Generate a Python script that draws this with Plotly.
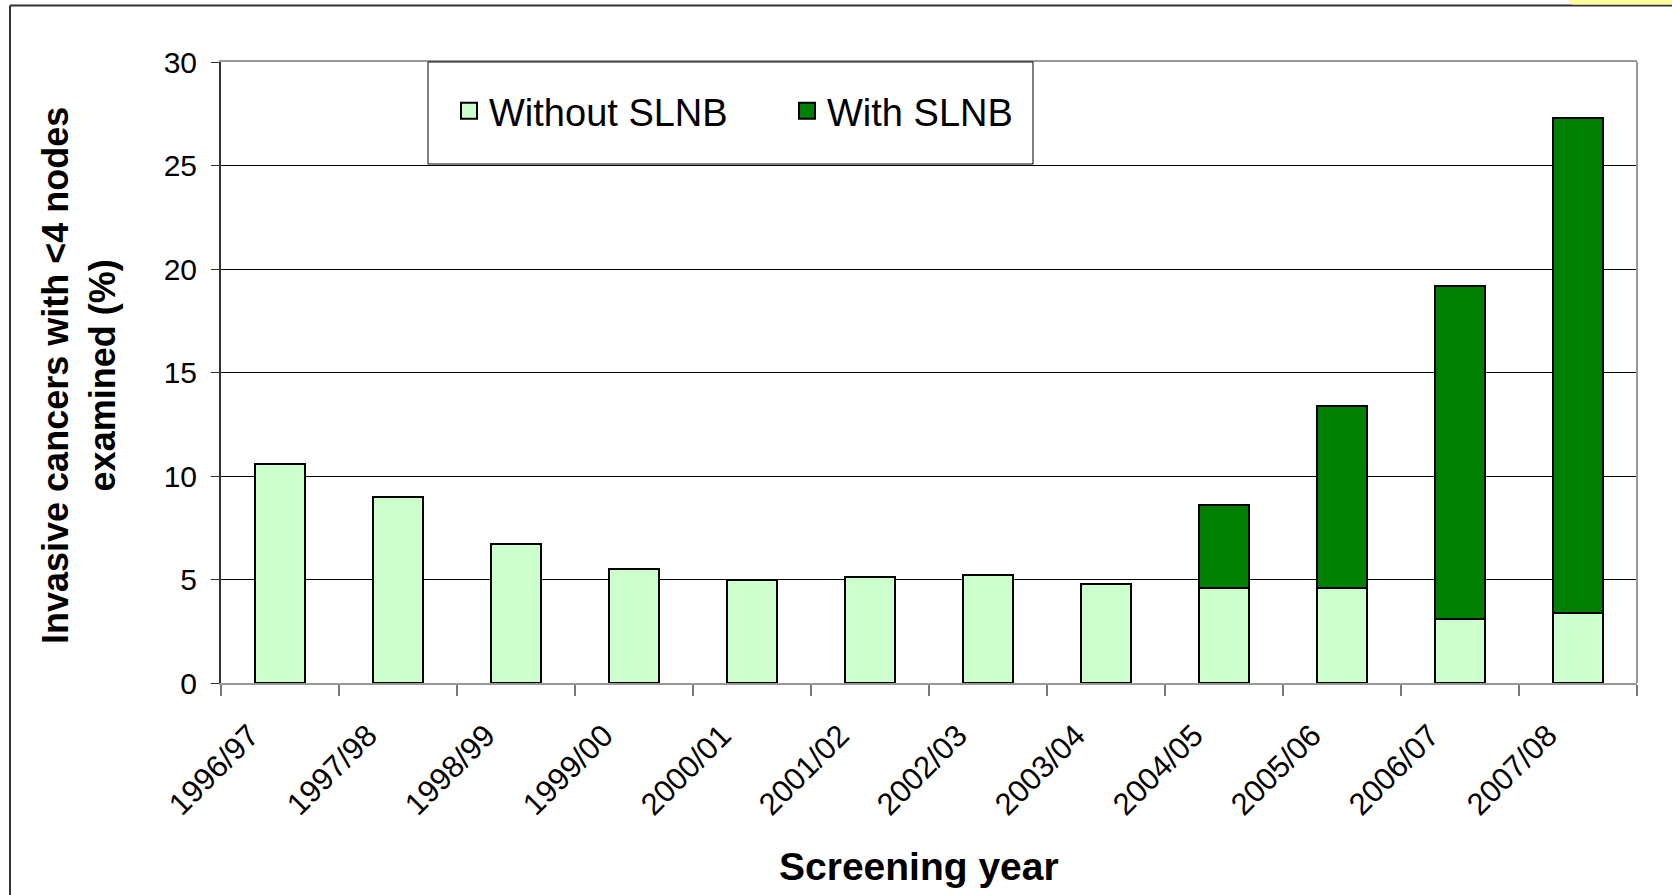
import plotly.graph_objects as go

years = ["1996/97", "1997/98", "1998/99", "1999/00", "2000/01", "2001/02",
         "2002/03", "2003/04", "2004/05", "2005/06", "2006/07", "2007/08"]
without_slnb = [10.6, 9.0, 6.7, 5.5, 5.0, 5.1, 5.2, 4.8, 4.6, 4.6, 3.1, 3.4]
with_slnb = [0, 0, 0, 0, 0, 0, 0, 0, 4.0, 8.8, 16.1, 23.9]
y_ticks = [0, 5, 10, 15, 20, 25, 30]

LIGHT = "#CCFFCC"
DARK = "#008000"

W, H = 1672, 895
L, R, T, B = 221, 35, 62, 212
PW, PH = W - L - R, H - T - B


def px(x):
    return (x - L) / PW


def py(y):
    return (H - B - y) / PH


FONT = "Liberation Sans, Arial, sans-serif"

fig = go.Figure()
fig.add_trace(go.Bar(
    x=years, y=without_slnb, name="Without SLNB", showlegend=False,
    marker=dict(color=LIGHT, line=dict(color="black", width=2)),
))
fig.add_trace(go.Bar(
    x=years, y=with_slnb, name="With SLNB", showlegend=False,
    marker=dict(color=DARK, line=dict(color="black", width=2)),
))
# legend entries (square keys)
for name, col in [("Without SLNB", LIGHT), ("With SLNB", DARK)]:
    fig.add_trace(go.Scatter(
        x=[None], y=[None], mode="markers", name=name,
        marker=dict(symbol="square", size=16, color=col,
                    line=dict(color="black", width=2)),
    ))

shapes = [
    # legend box
    dict(type="rect", xref="paper", yref="paper", x0=px(428), x1=px(1033),
         y0=py(164), y1=py(62), line=dict(color="black", width=1),
         fillcolor="white", layer="above"),
    # right frame line
    dict(type="line", xref="paper", yref="paper", x0=1, x1=1, y0=0, y1=1,
         line=dict(color="#999999", width=2)),
    # outer border (top, left)
    dict(type="line", xref="paper", yref="paper", x0=px(10), x1=px(W + 5),
         y0=py(5.5), y1=py(5.5), line=dict(color="#333333", width=2)),
    dict(type="line", xref="paper", yref="paper", x0=px(10), x1=px(10),
         y0=py(5.5), y1=py(H + 5), line=dict(color="#333333", width=2)),
    # yellow corner
    dict(type="path", xref="paper", yref="paper",
         path=f"M {px(1566)},{py(-2)} L {px(W + 5)},{py(-2)} L {px(W + 5)},{py(4.5)} L {px(1572)},{py(4.5)} Z",
         fillcolor="#FFFF99", line=dict(width=0)),
]

annotations = [
    dict(text="<b>Screening year</b>", xref="paper", yref="paper",
         x=px(919), y=py(866), xanchor="center", yanchor="middle",
         showarrow=False, font=dict(family=FONT, size=39, color="black")),
    dict(text="<b>Invasive cancers with <4 nodes<br>examined (%)</b>",
         xref="paper", yref="paper", x=px(79), y=py(376), textangle=-90,
         xanchor="center", yanchor="middle", showarrow=False,
         font=dict(family=FONT, size=36, color="black")),
]

fig.update_layout(
    width=W, height=H,
    margin=dict(l=L, r=R, t=T, b=B, autoexpand=False),
    paper_bgcolor="white", plot_bgcolor="white",
    barmode="stack", bargap=0.576,
    font=dict(family=FONT, color="black"),
    showlegend=True,
    legend=dict(orientation="h", x=px(449), y=py(111), xanchor="left",
                yanchor="middle", bgcolor="rgba(0,0,0,0)", borderwidth=0,
                font=dict(family=FONT, size=38, color="black"),
                entrywidth=293, entrywidthmode="pixels",
                traceorder="normal"),
    shapes=shapes,
    annotations=annotations,
    xaxis=dict(
        type="category", showline=True, linecolor="#999999", linewidth=2,
        mirror=True, ticks="outside", tickson="boundaries", ticklen=11,
        tickwidth=2, tickcolor="#777777", tickangle=-45,
        ticklabelshift=-30, ticklabelstandoff=20,
        tickfont=dict(family=FONT, size=31, color="black"),
        showgrid=False, zeroline=False,
    ),
    yaxis=dict(
        range=[0, 30], tickvals=y_ticks, showline=True, linecolor="#333333",
        linewidth=2, ticks="outside", ticklen=8, tickwidth=1,
        tickcolor="#333333", showgrid=True, gridcolor="black", gridwidth=1,
        zeroline=False, ticklabelstandoff=8,
        tickfont=dict(family=FONT, size=30, color="black"),
    ),
)

fig.write_html("out.html", config={"displayModeBar": False},
               post_script="document.body.style.margin='0';")
